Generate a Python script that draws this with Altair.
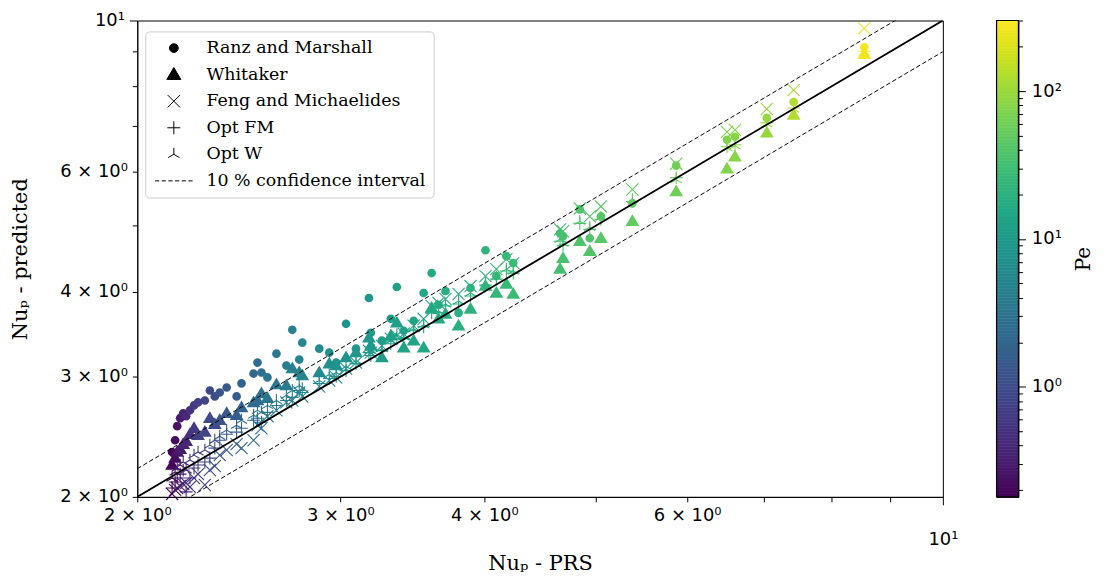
import altair as alt
import numpy as np
import pandas as pd

# ---------------- data ----------------
pe = [0.19, 0.22, 0.26, 0.30, 0.36, 0.42, 0.50, 0.60, 0.70,
      0.8, 0.9, 1.0, 1.2, 1.4, 1.6, 1.9, 2.2, 2.5,
      2.8, 3.2, 3.6, 4.0, 4.5, 5.0, 5.3, 6.0, 6.8, 7.5,
      8.0, 8.8, 9.5, 10, 11, 12, 12.5, 13, 14, 15,
      16, 17, 18, 19, 21, 23, 25, 27, 28,
      33, 35, 38, 40, 43, 50,
      60, 75, 80, 95, 125, 260]

nu_prs = [2.144, 2.157, 2.166, 2.179, 2.192, 2.205, 2.222, 2.240, 2.258,
          2.289, 2.312, 2.335, 2.358, 2.391, 2.439, 2.463, 2.523, 2.543,
          2.563, 2.594, 2.641, 2.694, 2.726, 2.764, 2.781, 2.877, 2.935, 2.976,
          3.035, 3.096, 3.177, 3.189, 3.260, 3.319, 3.359, 3.406, 3.474, 3.544,
          3.601, 3.651, 3.702, 3.800, 3.892, 4.010, 4.098, 4.181, 4.239,
          4.654, 4.682, 4.842, 4.939, 5.050, 5.378,
          5.870, 6.497, 6.601, 7.035, 7.422, 8.546]

nu_rm = [2.327, 2.422, 2.540, 2.609, 2.652, 2.627, 2.679, 2.724, 2.752,
         2.770, 2.865, 2.808, 2.846, 2.894, 2.808, 2.934, 3.034, 3.148,
         3.044, 2.994, 3.245, 3.117, 3.517, 3.181, 3.367, 3.300, 3.256, 3.148,
         3.589, 3.300, 3.916, 3.482, 3.390, 3.650, 4.064, 3.505, 3.625, 3.983,
         4.260, 3.825, 4.010, 3.724, 4.050, 4.602, 4.217, 4.510, 4.406,
         4.873, 4.824, 5.282, 4.792, 5.159, 5.390,
         6.124, 6.682, 6.750, 7.195, 7.592, 9.134]

nu_w = [2.227, 2.280, 2.327, 2.350, 2.390, 2.414, 2.472, 2.522, 2.463,
        2.489, 2.609, 2.557, 2.591, 2.652, 2.636, 2.706, 2.752, 2.770,
        2.836, 2.790, 2.924, 2.913, 3.086, 3.044, 3.014, 3.044, 3.137, 3.117,
        3.202, 3.256, 3.424, 3.333, 3.202, 3.447, 3.601, 3.311, 3.390, 3.311,
        3.787, 3.650, 3.711, 3.565, 3.774, 4.077, 3.983, 4.105, 3.970,
        4.317, 4.480, 4.744, 4.587, 4.792, 5.073,
        5.611, 6.062, 6.311, 6.842, 7.268, 8.922]

nu_fm = [2.020, 2.048, 2.061, 2.075, 2.089, 2.096, 2.068, 2.132, 2.160,
         2.082, 2.190, 2.219, 2.303, 2.343, 2.390, 2.358, 2.422, 2.548,
         2.522, 2.627, 2.679, 2.752, 2.770, 2.846, 2.808, 2.904, 2.964, 2.994,
         3.086, 3.148, 3.278, 3.256, 3.333, 3.412, 3.447, 3.470, 3.565, 3.650,
         3.812, 3.851, 3.903, 3.970, 4.077, 4.217, 4.317, 4.465, 4.406,
         4.938, 4.906, 5.300, 5.159, 5.336, 5.649,
         6.165, 6.865, 6.911, 7.416, 7.905, 9.738]

nu_ofm = [2.061, 2.103, 2.132, 2.160, 2.190, 2.034, 2.132, 2.205, 2.227,
          2.250, 2.280, 2.358, 2.422, 2.472, 2.489, 2.522, 2.591, 2.609,
          2.574, 2.661, 2.724, 2.770, 2.799, 2.865, 2.846, 2.934, 2.984, 3.004,
          3.064, 3.137, 3.256, 3.224, 3.278, 3.356, 3.412, 3.412, 3.505, 3.553,
          3.724, 3.724, 3.812, 3.838, 3.942, 4.092, 4.175, 4.289, 4.260,
          4.744, 4.681, 5.039, 4.938, 5.108, 5.426,
          5.882, 6.527, 6.572, 7.076, 7.441, 9.013]

nu_ow = [2.132, 2.175, 2.205, 2.227, 2.250, 2.190, 2.265, 2.303, 2.327,
         2.343, 2.382, 2.422, 2.455, 2.506, 2.548, 2.591, 2.636, 2.679,
         2.661, 2.724, 2.770, 2.818, 2.865, 2.913, 2.884, 2.964, 3.024, 3.044,
         3.106, 3.169, 3.300, 3.278, 3.300, 3.390, 3.459, 3.436, 3.529, 3.577,
         3.749, 3.749, 3.838, 3.877, 3.983, 4.119, 4.203, 4.317, 4.289,
         4.776, 4.712, 5.073, 4.972, 5.142, 5.462,
         5.842, 6.506, 6.550, 7.052, 7.416, 8.983]

models = ["Ranz and Marshall", "Whitaker", "Feng and Michaelides", "Opt FM", "Opt W"]
ci_label = "10 % confidence interval"

# reference lines: y = x and +/-10 %
line_x = [2, 10]
line_eq = [2, 10]
line_up = [2.2, 11]
line_lo = [1.8, 9]

# colour bar range and ticks
pe_range = [0.18, 300]
cb_ticks = [0.2, 0.3, 0.4, 0.5, 0.6, 0.7, 0.8, 0.9, 1, 2, 3, 4, 5, 6, 7, 8, 9,
            10, 20, 30, 40, 50, 60, 70, 80, 90, 100, 200, 300]

# ---------------- tables ----------------
rows = []
for name, vals in zip(models, [nu_rm, nu_w, nu_fm, nu_ofm, nu_ow]):
    for p, x, y in zip(pe, nu_prs, vals):
        rows.append({"model": name, "Pe": p, "prs": x, "pred": y})
df = pd.DataFrame(rows)
df_filled = df[df["model"].isin(models[:2])]
df_open = df[df["model"].isin(models[2:])]

df_eq = pd.DataFrame({"x": line_x, "y": line_eq})
df_ci = pd.DataFrame({"x": line_x + line_x, "y": line_up + line_lo,
                      "side": ["up", "up", "lo", "lo"]})

# colour-bar strips (gradient rendering, not data)
edges = np.geomspace(pe_range[0], pe_range[1], 161)
df_cb = pd.DataFrame({"lo": edges[:-1], "hi": edges[1:],
                      "mid": np.sqrt(edges[:-1] * edges[1:])})
df_cb_frame = pd.DataFrame({"lo": [pe_range[0]], "hi": [pe_range[1]]})

# ---------------- marker shapes ----------------
shape_paths = [
    "M-0.68,0A0.68,0.68,0,1,1,0.68,0A0.68,0.68,0,1,1,-0.68,0Z",   # circle
    "M0,-1.1L1.08,0.74L-1.08,0.74Z",                                # triangle up
    "M-0.95,-0.95L0.95,0.95M-0.95,0.95L0.95,-0.95",                 # x
    "M-1,0L1,0M0,-1L0,1",                                           # plus
    "M0,0L0,-1M0,0L-0.87,0.5M0,0L0.87,0.5",                         # tri up
    "M-2.9,0L-2.25,0M-1.87,0L-1.22,0M-0.84,0L-0.19,0M0.19,0L0.84,0M1.22,0L1.87,0M2.25,0L2.9,0",
]

tick_vals = [2, 3, 4, 5, 6, 7, 8, 9, 10]
lab_expr = ("datum.value == 10 ? '10\u00b9' : datum.value == 2 ? '2 \u00d7 10\u2070' : "
            "datum.value == 3 ? '3 \u00d7 10\u2070' : datum.value == 4 ? '4 \u00d7 10\u2070' : "
            "datum.value == 6 ? '6 \u00d7 10\u2070' : ''")

xscale = alt.Scale(type="log", domain=[2, 10], nice=False)
yscale = alt.Scale(type="log", domain=[2, 10], nice=False)

xtitle = "Nu\u209a - PRS"
ytitle = "Nu\u209a - predicted"

xaxis = alt.Axis(values=tick_vals, labelExpr=lab_expr, grid=False, labelFlush=False,
                 labelOverlap=False,
                 tickSize={"condition": {"test": "datum.value == 10", "value": 8}, "value": 5},
                 labelPadding={"condition": {"test": "datum.value == 10", "value": 26}, "value": 5},
                 titleY=73, titleBaseline="alphabetic")
yaxis = alt.Axis(values=tick_vals, labelExpr=lab_expr, grid=False, labelFlush=False,
                 labelOverlap=False,
                 tickSize={"condition": {"test": "datum.value == 10", "value": 8}, "value": 5},
                 labelPadding=5, titlePadding=29)

cscale = alt.Scale(type="log", scheme="viridis", domain=pe_range)
shape_enc = alt.Shape("model:N", scale=alt.Scale(domain=models + [ci_label], range=shape_paths),
                      legend=alt.Legend(
                          title=None, orient="none", legendX=8, legendY=11,
                          labelFont="DejaVu Serif", labelFontSize=17.5, labelColor="black",
                          labelLimit=400, symbolSize=170, symbolFillColor="black",
                          symbolStrokeColor="black", symbolStrokeWidth=1,
                          strokeColor="#cccccc", fillColor="white", cornerRadius=4,
                          padding=8, rowPadding=7.7, labelOffset=24, symbolOffset=12))

filled_pts = alt.Chart(df_filled).mark_point(filled=True, opacity=1, size=165).encode(
    x=alt.X("prs:Q", scale=xscale, axis=xaxis, title=xtitle),
    y=alt.Y("pred:Q", scale=yscale, axis=yaxis, title=ytitle),
    color=alt.Color("Pe:Q", scale=cscale, legend=None),
    shape=shape_enc,
)

open_pts = alt.Chart(df_open).mark_point(filled=False, opacity=1, size=165, strokeWidth=1.1).encode(
    x=alt.X("prs:Q", scale=xscale, title=xtitle),
    y=alt.Y("pred:Q", scale=yscale, axis=None),
    color=alt.Color("Pe:Q", scale=cscale, legend=None),
    shape=shape_enc,
)

eq_line = alt.Chart(df_eq).mark_line(color="black", strokeWidth=1.8, clip=True).encode(
    x=alt.X("x:Q", scale=xscale, title=xtitle),
    y=alt.Y("y:Q", scale=yscale, axis=None),
)

ci_lines = alt.Chart(df_ci).mark_line(color="black", strokeWidth=1, strokeDash=[4.5, 2.5],
                                      clip=True).encode(
    x=alt.X("x:Q", scale=xscale, title=xtitle),
    y=alt.Y("y:Q", scale=yscale, axis=None),
    detail="side:N",
)

main = alt.layer(filled_pts, open_pts, eq_line, ci_lines).resolve_scale(
    y="independent"
).properties(width=810, height=479)

cb_scale = alt.Scale(type="log", domain=pe_range, nice=False)
cb_major = "datum.value == 1 || datum.value == 10 || datum.value == 100"
cb_strips = alt.Chart(df_cb).mark_rect(strokeWidth=0.6).encode(
    y=alt.Y("lo:Q", scale=cb_scale,
            axis=alt.Axis(orient="right", values=cb_ticks, grid=False, labelOverlap=False,
                          labelFlush=False, domain=False,
                          labelExpr="datum.value == 1 ? '10\u2070' : datum.value == 10 ? "
                                    "'10\u00b9' : datum.value == 100 ? '10\u00b2' : ''",
                          tickSize={"condition": {"test": cb_major, "value": 7}, "value": 4},
                          labelPadding=6, title="Pe", titleAngle=270, titlePadding=32,
                          titleFontSize=20)),
    y2="hi:Q",
    color=alt.Color("mid:Q", scale=cscale, legend=None),
    stroke=alt.Stroke("mid:Q", scale=alt.Scale(type="log", scheme="viridis", domain=pe_range),
                      legend=None),
)
cb_frame = alt.Chart(df_cb_frame).mark_rect(fillOpacity=0, stroke="black", strokeWidth=1.2).encode(
    y=alt.Y("lo:Q", scale=cb_scale),
    y2="hi:Q",
)
colorbar = alt.layer(cb_strips, cb_frame).properties(width=22, height=479)

chart = alt.hconcat(main, colorbar, spacing=54, bounds="flush").properties(
    padding={"left": 1, "top": 1, "right": 5, "bottom": 5},
).configure_view(
    stroke="black", strokeWidth=1
).configure_axis(
    labelFont="DejaVu Sans", labelFontSize=18, labelColor="black",
    titleFont="DejaVu Serif", titleFontSize=21, titleFontWeight="normal", titleColor="black",
    domainColor="black", tickColor="black", domainWidth=1, tickWidth=1,
)

chart.save("out.html", embed_options={"renderer": "svg", "actions": False})
